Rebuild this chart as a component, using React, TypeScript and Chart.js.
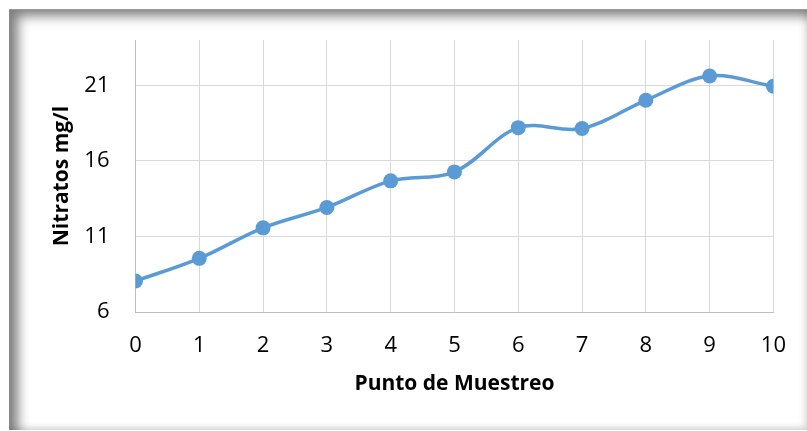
import React, { useEffect, useRef } from "react";
import { Chart, registerables } from "chart.js";

Chart.register(...registerables);

const puntos: number[] = [0, 1, 2, 3, 4, 5, 6, 7, 8, 9, 10];
const nitratos: number[] = [8.05, 9.55, 11.57, 12.92, 14.68, 15.27, 18.2, 18.14, 20.01, 21.62, 20.94];
const yTicks: number[] = [6, 11, 16, 21];
const xTitle = "Punto de Muestreo";
const yTitle = "Nitratos mg/l";

const FONT = "'Open Sans', 'DejaVu Sans', sans-serif";

export default function App() {
  const ref = useRef<HTMLCanvasElement | null>(null);

  useEffect(() => {
    if (!ref.current) return;
    const chart = new Chart(ref.current, {
      type: "line",
      data: {
        datasets: [
          {
            data: puntos.map((p, i) => ({ x: p, y: nitratos[i] })),
            borderColor: "#5B9BD5",
            backgroundColor: "#5B9BD5",
            borderWidth: 3.5,
            pointRadius: 7.5,
            pointHoverRadius: 7.5,
            pointBorderWidth: 0,
            pointBackgroundColor: "#5B9BD5",
            tension: 0.35,
            fill: false,
          },
        ],
      },
      options: {
        animation: false,
        responsive: false,
        devicePixelRatio: 1,
        layout: { autoPadding: false, padding: { left: 49.4, right: 31, top: 40, bottom: 34.4 } },
        plugins: { legend: { display: false }, tooltip: { enabled: false } },
        scales: {
          x: {
            type: "linear",
            min: 0,
            max: 10,
            ticks: {
              stepSize: 1,
              padding: 21,
              color: "#000",
              font: { family: FONT, size: 22 },
            },
            grid: { color: "#D9D9D9", lineWidth: 1, drawTicks: false },
            border: { color: "#BFBFBF", width: 1 },
            title: {
              display: true,
              text: xTitle,
              color: "#000",
              padding: 0,
              font: { family: FONT, size: 21, weight: "bold" },
            },
            afterFit: (scale: any) => {
              scale.height = 84.6;
            },
          },
          y: {
            type: "linear",
            min: 6,
            max: 24,
            afterBuildTicks: (scale: any) => {
              scale.ticks = yTicks.map((v) => ({ value: v }));
            },
            ticks: {
              padding: 26,
              color: "#000",
              font: { family: FONT, size: 22 },
            },
            grid: { color: "#D9D9D9", lineWidth: 1, drawTicks: false },
            border: { color: "#BFBFBF", width: 1 },
            title: {
              display: true,
              text: yTitle,
              color: "#000",
              padding: 0,
              font: { family: FONT, size: 21, weight: "bold" },
            },
            afterFit: (scale: any) => {
              scale.width = 86.1;
            },
          },
        },
      },
    });
    return () => chart.destroy();
  }, []);

  return (
    <div style={{ position: "fixed", left: 0, top: 0, width: 807, height: 431, background: "#fff", overflow: "hidden" }}>
      <div
        style={{
          position: "absolute",
          left: 9,
          top: 9,
          width: 798,
          height: 421,
          background: "#fff",
          borderTop: "1px solid #9a9a9a",
          borderLeft: "1px solid #8a8a8a",
          boxSizing: "border-box",
          boxShadow:
            "inset 8px 6px 12px rgba(0,0,0,0.5), inset -3px -3px 6px rgba(0,0,0,0.1)",
        }}
      />
      <canvas
        ref={ref}
        width={807}
        height={431}
        style={{ position: "absolute", left: 0, top: 0, width: 807, height: 431 }}
      />
    </div>
  );
}
